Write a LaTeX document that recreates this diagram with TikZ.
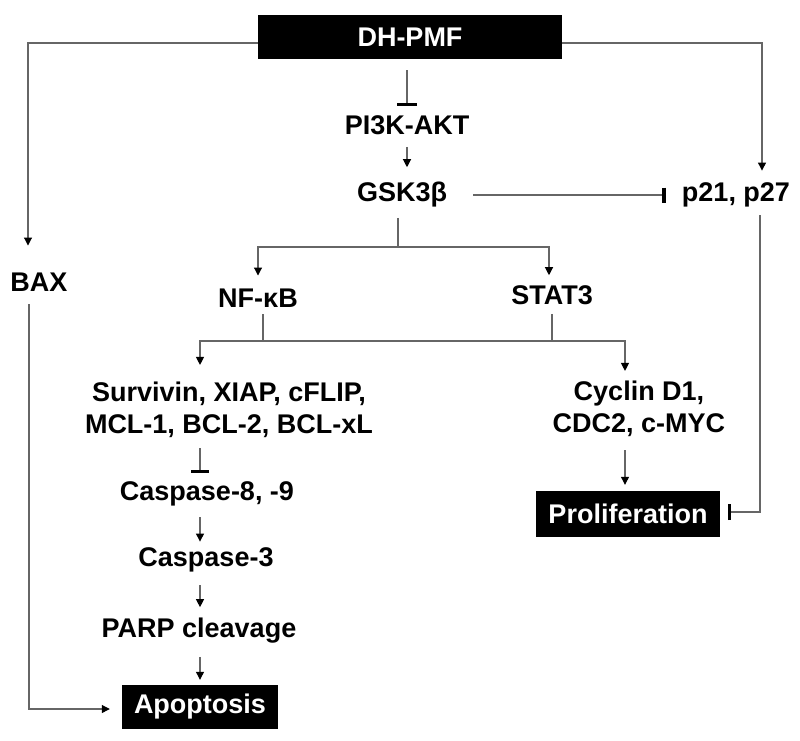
\documentclass[tikz,border=0pt]{standalone}
\usepackage{fontspec}
\setmainfont{Liberation Sans}
\usetikzlibrary{arrows.meta}

\begin{document}
\begin{tikzpicture}[x=1pt,y=-1pt]
  \tikzstyle{every node}+=[inner sep=0pt, align=center, font=\fontsize{27}{32}\selectfont\bfseries]
  \tikzstyle{blk}=[fill=black, text=white, minimum height=44pt]
  \tikzstyle{lin}=[black!60, line width=1.1pt]
  \tikzstyle{act}=[lin, -{Triangle[width=8pt,length=8pt,color=black]}]
  \tikzstyle{inh}=[lin, -{Bar[width=18pt,line width=3pt,color=black]}]
  \useasboundingbox (0,0) rectangle (800,740);
  \node [blk, minimum width=304pt] (pmf) at (410,37) {DH-PMF};
  \node (pik) at (407,125) {PI3K-AKT};
  \node (gsk) at (402,195) {GSK3β};
  \node (p21) at (736,195) {p21, p27};
  \node (bax) at (39,282) {BAX};
  \node (nfkb) at (258,298) {NF-κB};
  \node (stat) at (552,295) {STAT3};
  \node (surv) at (229,410) {Survivin, XIAP, cFLIP,\\MCL-1, BCL-2, BCL-xL};
  \node (cyc) at (639,409) {Cyclin D1,\\CDC2, c-MYC};
  \node (cas89) at (207,494) {Caspase-8, -9};
  \node (cas3) at (206,560) {Caspase-3};
  \node (parp) at (199,631) {PARP cleavage};
  \node [blk, minimum width=156pt] (apo) at (200,707) {Apoptosis};
  \node [blk, minimum width=184pt, minimum height=46pt] (prol) at (628,514) {Proliferation};
  \coordinate (fk1) at (398,247);
  \coordinate (fk2) at (263,341);
  \coordinate (fk3) at (552,341);
  \draw [act, shorten >=27pt] ([yshift=-6pt]pmf.west) -| ([xshift=-11pt]bax.north);
  \draw [act, shorten >=12pt] ([yshift=-6pt]pmf.east) -| ([xshift=26pt]p21.north);
  \draw [inh, shorten <=11pt, shorten >=9pt, -{Bar[width=20pt,line width=3pt,color=black]}] (pmf.south -| pik) -- (pik.north);
  \draw [act, shorten <=12pt, shorten >=15pt] (pik.south) -- (pik.south |- gsk.north);
  \draw [inh, shorten <=26pt, shorten >=16pt, -{Bar[width=15pt,line width=4pt,color=black]}] (gsk.east) -- (gsk.east -| p21.west);
  \draw [lin, shorten <=10pt] (gsk.south -| fk1) -- (fk1);
  \draw [act, shorten >=13pt] (fk1) -| (nfkb.north);
  \draw [act, shorten >=10pt] (fk1) -| ([xshift=-3pt]stat.north);
  \draw [lin, shorten <=7pt] (nfkb.south -| fk2) -- (fk2);
  \draw [lin, shorten <=9pt] (stat.south) -- (fk3);
  \draw [act, shorten >=17pt] (fk3) -- (fk2) -| (surv.north -| apo);
  \draw [act, shorten >=10pt] (fk2) -- (fk3) -| ([xshift=-3pt]cyc.north -| prol);
  \draw [inh, shorten <=10pt, shorten >=9pt] (surv.south -| apo) -- (cas89.north -| apo);
  \draw [act, shorten <=11pt, shorten >=6pt] (cas89.south -| apo) -- (cas3.north -| apo);
  \draw [act, shorten <=13pt, shorten >=11pt] (cas3.south -| apo) -- (parp.north -| apo);
  \draw [act, shorten <=13pt, shorten >=5pt] (parp.south -| apo) -- (apo.north);
  \draw [act, shorten <=13pt, shorten >=6pt] ([xshift=-3pt]cyc.south -| prol) -- ([xshift=-3pt]prol.north);
  \draw [act, shorten <=13pt, shorten >=12pt] ([xshift=-10pt]bax.south) |- ([yshift=-2pt]apo.west);
  \draw [inh, shorten <=8pt, shorten >=8pt, -{Bar[width=16pt,line width=3pt,color=black]}] ([xshift=24pt]p21.south) |- ([yshift=2pt]prol.east);
\end{tikzpicture}
\end{document}
